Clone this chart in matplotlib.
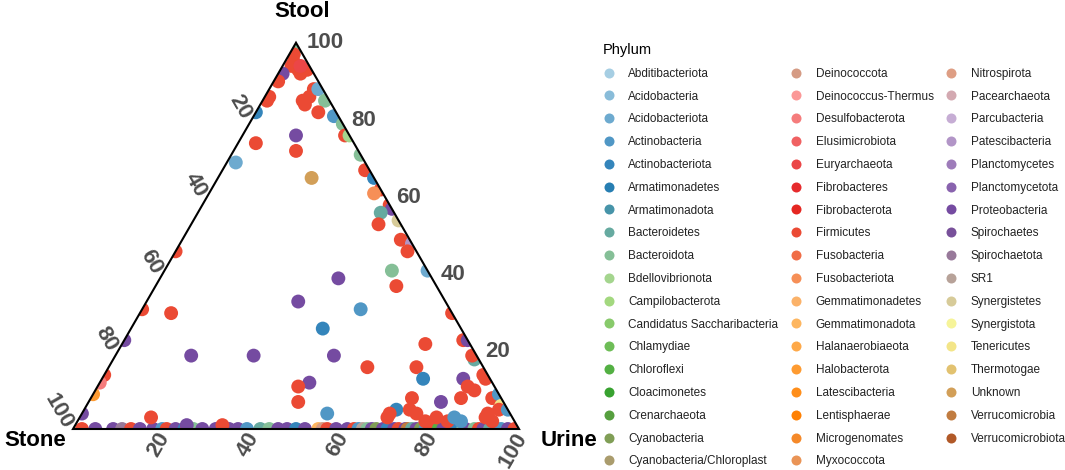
import numpy as np
import matplotlib
matplotlib.use('Agg')
import matplotlib.pyplot as plt
from matplotlib.patches import Polygon
from matplotlib.lines import Line2D
from matplotlib.colors import to_rgb

plt.rcParams['font.family'] = ['Liberation Sans', 'DejaVu Sans']

# phyla shown in the legend (alphabetical, as in the figure)
phyla = ['Abditibacteriota', 'Acidobacteria', 'Acidobacteriota', 'Actinobacteria',
         'Actinobacteriota', 'Armatimonadetes', 'Armatimonadota', 'Bacteroidetes',
         'Bacteroidota', 'Bdellovibrionota', 'Campilobacterota',
         'Candidatus Saccharibacteria', 'Chlamydiae', 'Chloroflexi', 'Cloacimonetes',
         'Crenarchaeota', 'Cyanobacteria', 'Cyanobacteria/Chloroplast',
         'Deinococcota', 'Deinococcus-Thermus', 'Desulfobacterota', 'Elusimicrobiota',
         'Euryarchaeota', 'Fibrobacteres', 'Fibrobacterota', 'Firmicutes',
         'Fusobacteria', 'Fusobacteriota', 'Gemmatimonadetes', 'Gemmatimonadota',
         'Halanaerobiaeota', 'Halobacterota', 'Latescibacteria', 'Lentisphaerae',
         'Microgenomates', 'Myxococcota',
         'Nitrospirota', 'Pacearchaeota', 'Parcubacteria', 'Patescibacteria',
         'Planctomycetes', 'Planctomycetota', 'Proteobacteria', 'Spirochaetes',
         'Spirochaetota', 'SR1', 'Synergistetes', 'Synergistota', 'Tenericutes',
         'Thermotogae', 'Unknown', 'Verrucomicrobia', 'Verrucomicrobiota']

# genera lying on the Stone-Urine edge (no Stool share)
bottom_phylum = ['Firmicutes', 'Proteobacteria', 'Proteobacteria', 'Spirochaetota',
                 'Firmicutes', 'Proteobacteria', 'Proteobacteria', 'Actinobacteria',
                 'Firmicutes', 'Proteobacteria', 'Actinobacteriota', 'Firmicutes',
                 'Proteobacteria', 'Bacteroidota', 'Proteobacteria', 'Proteobacteria',
                 'Proteobacteria', 'Proteobacteria', 'Actinobacteria', 'Bacteroidetes',
                 'Bacteroidota', 'Proteobacteria', 'Proteobacteria', 'Actinobacteriota',
                 'Proteobacteria', 'Gemmatimonadota', 'Deinococcota', 'Firmicutes',
                 'Proteobacteria', 'Proteobacteria', 'Firmicutes', 'Actinobacteria',
                 'SR1', 'Bacteroidota', 'Proteobacteria', 'Cyanobacteria',
                 'Proteobacteria', 'Actinobacteriota', 'Proteobacteria', 'Firmicutes',
                 'Proteobacteria', 'Verrucomicrobia', 'Bacteroidetes', 'Proteobacteria',
                 'Cyanobacteria', 'Actinobacteria', 'Proteobacteria', 'Firmicutes',
                 'Chloroflexi', 'Proteobacteria', 'Proteobacteria', 'Actinobacteriota',
                 'Bacteroidota', 'Proteobacteria', 'Bacteroidota', 'Firmicutes',
                 'Proteobacteria', 'Bacteroidetes', 'Proteobacteria', 'Actinobacteria',
                 'Proteobacteria', 'Firmicutes']
bottom_urine = [2, 5, 9, 11, 13, 15, 18, 20, 21, 23, 25, 25.5, 26.5, 27, 29, 32, 35, 37,
                39, 42, 44, 46, 48, 50, 52, 55, 56, 57, 59, 61.5, 63, 64, 65, 66, 67,
                68, 69.5, 70.5, 72, 73, 74.5, 75, 76, 77, 78, 79, 80, 81, 82, 83, 85,
                86, 87.5, 88, 90, 91, 92, 93.5, 95, 96, 97.5, 99]

# remaining genera: relative abundance (%) in stool, stone and urine
pt_phylum = ['Firmicutes', 'Firmicutes', 'Firmicutes', 'Firmicutes', 'Firmicutes',
             'Euryarchaeota', 'Proteobacteria', 'Bacteroidota', 'Firmicutes', 'Firmicutes',
             'Firmicutes', 'Firmicutes', 'Actinobacteriota', 'Firmicutes', 'Firmicutes',
             'Firmicutes', 'Firmicutes', 'Acidobacteriota', 'Bacteroidota', 'Firmicutes',
             'Actinobacteria', 'Bacteroidota', 'Firmicutes', 'Bdellovibrionota',
             'Proteobacteria', 'Firmicutes', 'Firmicutes', 'Acidobacteriota', 'Bacteroidota',
             'Firmicutes', 'Actinobacteriota', 'Firmicutes', 'Fusobacteriota', 'Unknown',
             'Firmicutes', 'Proteobacteria', 'Bacteroidetes', 'Synergistetes', 'Firmicutes',
             'Firmicutes', 'Patescibacteria', 'Firmicutes', 'Proteobacteria', 'Bacteroidota',
             'Firmicutes', 'Acidobacteriota', 'Actinobacteria', 'Firmicutes', 'Firmicutes',
             'Firmicutes', 'Firmicutes', 'Proteobacteria', 'Proteobacteria', 'Proteobacteria',
             'Proteobacteria', 'Proteobacteria', 'Actinobacteriota', 'Firmicutes',
             'Desulfobacterota', 'Halobacterota', 'Proteobacteria', 'Firmicutes',
             'Firmicutes', 'Proteobacteria', 'Proteobacteria', 'Firmicutes', 'Firmicutes',
             'Actinobacteria', 'Firmicutes', 'Firmicutes', 'Firmicutes', 'Proteobacteria',
             'Firmicutes', 'Actinobacteriota', 'Bacteroidetes', 'Firmicutes', 'Firmicutes',
             'Firmicutes', 'Proteobacteria', 'Firmicutes', 'Firmicutes', 'Firmicutes',
             'Proteobacteria', 'Actinobacteriota', 'Firmicutes', 'Firmicutes', 'Firmicutes',
             'Firmicutes', 'Firmicutes', 'Firmicutes', 'Firmicutes', 'Actinobacteria',
             'Actinobacteria', 'Firmicutes', 'Actinobacteria', 'Tenericutes', 'Firmicutes',
             'Actinobacteria', 'Firmicutes', 'Firmicutes', 'Firmicutes', 'Firmicutes']
pt_stool = [95, 93, 92, 93, 94, 94, 92, 99, 97, 90, 86, 85, 82, 85, 86, 84, 88, 88, 85, 82,
            81, 79, 76, 76, 76, 74, 72, 69, 71, 67, 65, 62, 61, 65, 58, 57, 56, 54, 53,
            49, 48, 46, 39, 41, 37, 41, 31, 30, 46, 31, 30, 23, 19, 19, 19, 33, 26, 14,
            12, 9, 4, 3, 1, 1, 12, 11, 7, 4, 16, 22, 23, 23, 16, 13, 18, 19, 14, 13, 13,
            11, 10, 8, 7, 5, 8, 5, 3, 4, 2, 3, 2, 3, 2, 8, 9, 6, 5, 5, 4, 2, 3, 4]
pt_stone = [3, 3, 3, 1, 4, 2, 7, 0, 2, 9, 13, 14, 18, 6, 4, 6, 2, 1, 1, 4,
            1, 0, 1, 0, 12, 22, 14, 29, 0, 1, 0, 0, 2, 14, 0, 0, 3, 0, 5,
            2, 0, 2, 21, 8, 9, 0, 20, 0, 54, 69, 63, 77, 64, 50, 32, 33, 31, 86,
            88, 91, 96, 81, 66, 74, 41, 44, 46, 41, 26, 10, 1, 0, 15, 15, 1, 1, 1, 1, 6,
            6, 5, 9, 14, 25, 20, 22, 28, 21, 20, 17, 15, 13, 12, 2, 0, 1, 2, 0, 5, 5, 6, 27]
pt_urine = [2, 4, 5, 6, 2, 4, 1, 1, 1, 1, 1, 1, 0, 9, 10, 10, 10, 11, 14, 14,
            18, 21, 23, 24, 12, 4, 14, 2, 29, 32, 35, 38, 37, 21, 42, 43, 41, 46, 42,
            49, 52, 52, 40, 51, 54, 59, 49, 70, 0, 0, 7, 0, 17, 31, 49, 34, 43, 0,
            0, 0, 0, 16, 33, 25, 47, 45, 47, 55, 58, 68, 76, 77, 69, 72, 81, 80, 85, 86, 81,
            83, 85, 83, 79, 70, 72, 73, 69, 75, 78, 80, 83, 84, 86, 90, 91, 93, 93, 95, 91,
            93, 91, 69]

tick_values = [20, 40, 60, 80, 100]

# colour ramp through the 12 "Paired" colours, one colour per phylum
paired = ['#A6CEE3', '#1F78B4', '#B2DF8A', '#33A02C', '#FB9A99', '#E31A1C',
          '#FDBF6F', '#FF7F00', '#CAB2D6', '#6A3D9A', '#FFFF99', '#B15928']
base = np.array([to_rgb(c) for c in paired])
knots = np.linspace(0, 1, len(paired))
where = np.linspace(0, 1, len(phyla))
ramp = np.column_stack([np.interp(where, knots, base[:, k]) for k in range(3)])
colour_of = dict(zip(phyla, ramp))

H = np.sqrt(3) / 2
PX = 446.0  # pixels per unit side of the triangle


def tern_xy(stool, stone, urine):
    stool = np.asarray(stool, float)
    stone = np.asarray(stone, float)
    urine = np.asarray(urine, float)
    tot = stool + stone + urine
    s, u = stool / tot, urine / tot
    return u + 0.5 * s, s * H


fig = plt.figure(figsize=(10.65, 4.70), dpi=100)
ax = fig.add_axes([0, 0, 560 / 1065, 1])
ax.set_xlim(-73 / PX, (560 - 73) / PX)
ax.set_ylim((429 - 470) / PX, 429 / PX)
ax.axis('off')

clip = Polygon([(0, 0), (1, 0), (0.5, H)], closed=True, transform=ax.transData,
               facecolor='none', edgecolor='none')
ax.add_patch(clip)

# points on the bottom edge first, the rest on top
bx, by = tern_xy(np.zeros(len(bottom_urine)), 100 - np.array(bottom_urine), bottom_urine)
sc1 = ax.scatter(bx, by, s=100, c=[colour_of[p] for p in bottom_phylum], linewidths=0, zorder=3)
sc1.set_clip_path(clip)

px_, py_ = tern_xy(pt_stool, pt_stone, pt_urine)
sc2 = ax.scatter(px_, py_, s=100, c=[colour_of[p] for p in pt_phylum], linewidths=0, zorder=3)
sc2.set_clip_path(clip)

ax.add_patch(Polygon([(0, 0), (1, 0), (0.5, H)], closed=True, fill=False,
                     edgecolor='black', linewidth=1.5, zorder=5))

tick_kw = dict(fontsize=16, fontweight='bold', color='#4D4D4D')
for v in tick_values:
    f = v / 100
    # Stool, right edge
    ax.text(1 - 0.5 * f + 11 / PX, f * H, str(v), ha='left', va='center', **tick_kw)
    # Stone, left edge
    ax.text(0.5 * (1 - f) - 5 / PX, (1 - f) * H + 2 / PX, str(v), rotation=-60,
            rotation_mode='anchor', ha='right', va='center', **tick_kw)
    # Urine, bottom edge
    ax.text(f + 3 / PX, -5 / PX, str(v), rotation=60, rotation_mode='anchor',
            ha='right', va='center', **tick_kw)

title_kw = dict(fontsize=16, fontweight='bold', color='black')
ax.text(0.5 + 6 / PX, H + 31 / PX, 'Stool', ha='center', va='center', **title_kw)
ax.text(-7 / PX, -12 / PX, 'Stone', ha='right', va='center', **title_kw)
ax.text(1 + 22 / PX, -12 / PX, 'Urine', ha='left', va='center', **title_kw)

handles = [Line2D([], [], ls='none', marker='o', markersize=7.2,
                  markerfacecolor=colour_of[p], markeredgecolor='none') for p in phyla]
leg = fig.legend(handles, phyla, loc='upper left', bbox_to_anchor=(603 / 1065, 1 - 43 / 470),
                 ncol=3, frameon=False, title='Phylum', alignment='left', fontsize=8.5,
                 title_fontsize=10.5, handlelength=1.0, handletextpad=1.15,
                 labelspacing=0.915, columnspacing=1.0, borderpad=0, borderaxespad=0)
for t in leg.get_texts():
    t.set_color('#222222')

fig.savefig('out.png', dpi=100)
